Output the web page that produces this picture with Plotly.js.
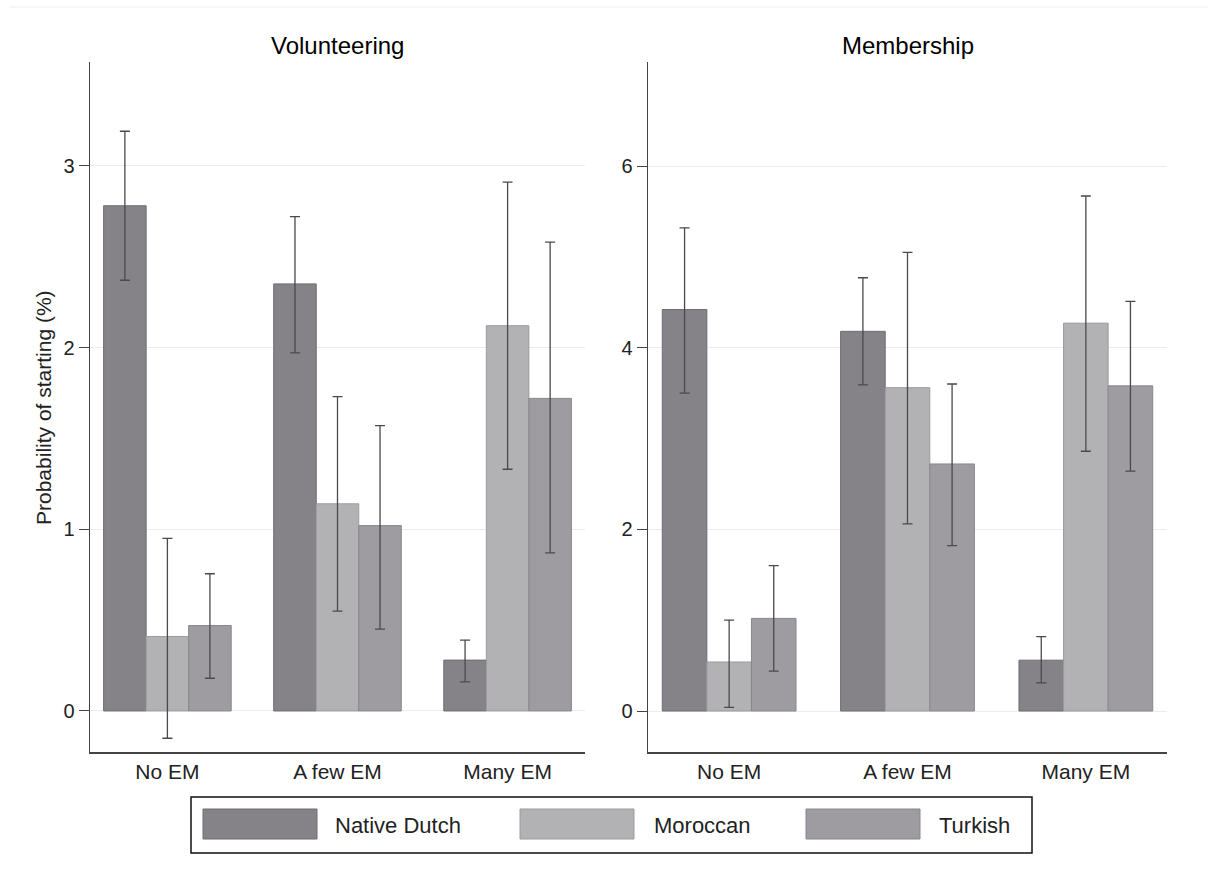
<!DOCTYPE html>
<html>
<head>
<meta charset="utf-8">
<script src="https://cdn.plot.ly/plotly-3.0.1.min.js"></script>
<style>html,body{margin:0;padding:0;background:#fff;}#chart{width:1208px;height:878px;}</style>
</head>
<body>
<div id="chart"></div>
<script>
// ---- data ----
const categories = ['No EM', 'A few EM', 'Many EM'];
const groups = ['Native Dutch', 'Moroccan', 'Turkish'];
const panelTitles = ['Volunteering', 'Membership'];

// Volunteering (left panel)
const volNative   = [2.78, 2.35, 0.28];
const volMoroccan = [0.41, 1.14, 2.12];
const volTurkish  = [0.47, 1.02, 1.72];
const volNativeLo   = [2.37, 1.97, 0.16];
const volNativeHi   = [3.19, 2.72, 0.39];
const volMoroccanLo = [-0.15, 0.55, 1.33];
const volMoroccanHi = [0.95, 1.73, 2.91];
const volTurkishLo  = [0.18, 0.45, 0.87];
const volTurkishHi  = [0.755, 1.57, 2.58];

// Membership (right panel)
const memNative   = [4.42, 4.18, 0.56];
const memMoroccan = [0.54, 3.56, 4.27];
const memTurkish  = [1.02, 2.72, 3.58];
const memNativeLo   = [3.50, 3.59, 0.31];
const memNativeHi   = [5.32, 4.77, 0.82];
const memMoroccanLo = [0.04, 2.06, 2.86];
const memMoroccanHi = [1.00, 5.05, 5.67];
const memTurkishLo  = [0.44, 1.82, 2.64];
const memTurkishHi  = [1.60, 3.60, 4.51];

const volTicks = [0, 1, 2, 3];
const memTicks = [0, 2, 4, 6];
const yTitle = 'Probability of starting (%)';

// ---- styles ----
const fills = ['#858388', '#b2b1b4', '#9e9ca0'];
const edges = ['#6e6c71', '#9b9a9d', '#88868a'];
const W = 1208, H = 878;
const px = v => v / W;
const py = v => 1 - v / H;
const FONT = 'Liberation Sans, Arial, sans-serif';

function barTrace(name, i, vals, lo, hi, xa, ya) {
  return {
    type: 'bar', name: name, x: categories, y: vals, xaxis: xa, yaxis: ya,
    showlegend: false,
    marker: {color: fills[i], line: {color: edges[i], width: 1}},
    error_y: {
      type: 'data', symmetric: false,
      array: hi.map((h, k) => h - vals[k]),
      arrayminus: vals.map((v, k) => v - lo[k]),
      color: '#4a4a4a', thickness: 1.3, width: 5
    }
  };
}

const traces = [
  barTrace(groups[0], 0, volNative, volNativeLo, volNativeHi, 'x', 'y'),
  barTrace(groups[1], 1, volMoroccan, volMoroccanLo, volMoroccanHi, 'x', 'y'),
  barTrace(groups[2], 2, volTurkish, volTurkishLo, volTurkishHi, 'x', 'y'),
  barTrace(groups[0], 0, memNative, memNativeLo, memNativeHi, 'x2', 'y2'),
  barTrace(groups[1], 1, memMoroccan, memMoroccanLo, memMoroccanHi, 'x2', 'y2'),
  barTrace(groups[2], 2, memTurkish, memTurkishLo, memTurkishHi, 'x2', 'y2')
];

const xCommon = {
  type: 'category', range: [-0.455, 2.455], showgrid: false, zeroline: false,
  showline: true, linecolor: '#444', linewidth: 1.5, ticks: '',
  tickfont: {family: FONT, size: 21, color: '#222'}, fixedrange: true
};
const yCommon = {
  showgrid: true, gridcolor: '#ececec', gridwidth: 1, zeroline: false,
  showline: true, linecolor: '#444', linewidth: 1.5,
  ticks: 'outside', ticklen: 10, tickcolor: '#444', tickwidth: 1,
  tickfont: {family: FONT, size: 20, color: '#222'}, fixedrange: true
};

const yDom = [py(752), py(62)];

const layout = {
  width: W, height: H,
  margin: {l: 0, r: 0, t: 0, b: 0},
  paper_bgcolor: '#fff', plot_bgcolor: '#fff',
  barmode: 'group', bargap: 0.25, bargroupgap: 0,
  showlegend: false,
  font: {family: FONT, color: '#222'},
  xaxis: Object.assign({}, xCommon, {domain: [px(90), px(585)], anchor: 'y'}),
  xaxis2: Object.assign({}, xCommon, {domain: [px(648), px(1167)], anchor: 'y2'}),
  yaxis: Object.assign({}, yCommon, {domain: yDom, anchor: 'x', range: [-0.2257, 3.571], tickvals: volTicks}),
  yaxis2: Object.assign({}, yCommon, {domain: yDom, anchor: 'x2', range: [-0.451, 7.145], tickvals: memTicks}),
  shapes: [
    {type: 'line', xref: 'paper', yref: 'paper', x0: px(10), x1: 1, y0: py(7), y1: py(7), line: {color: '#eeeeee', width: 1}},
    {type: 'rect', xref: 'paper', yref: 'paper', x0: px(191), x1: px(1032), y0: py(853), y1: py(797), line: {color: '#111', width: 1.5}, fillcolor: 'rgba(0,0,0,0)'}
  ],
  annotations: [
    {text: panelTitles[0], xref: 'paper', yref: 'paper', x: px(337.5), y: py(45), xanchor: 'center', yanchor: 'middle', showarrow: false, font: {family: FONT, size: 24, color: '#000'}},
    {text: panelTitles[1], xref: 'paper', yref: 'paper', x: px(907.5), y: py(45), xanchor: 'center', yanchor: 'middle', showarrow: false, font: {family: FONT, size: 24, color: '#000'}},
    {text: yTitle, xref: 'paper', yref: 'paper', x: px(43), y: py(408), xanchor: 'center', yanchor: 'middle', textangle: -90, showarrow: false, font: {family: FONT, size: 21, color: '#222'}}
  ]
};

// custom legend (large swatches like the original)
const swX = [203, 520, 806];
const txX = [333, 652, 937];
groups.forEach((g, i) => {
  layout.shapes.push({type: 'rect', xref: 'paper', yref: 'paper', x0: px(swX[i]), x1: px(swX[i] + 114), y0: py(839), y1: py(809), fillcolor: fills[i], line: {color: edges[i], width: 1}});
  layout.annotations.push({text: g, xref: 'paper', yref: 'paper', x: px(txX[i]), y: py(825), xanchor: 'left', yanchor: 'middle', showarrow: false, font: {family: FONT, size: 22, color: '#222'}});
});

Plotly.newPlot('chart', traces, layout, {staticPlot: true, displayModeBar: false});
</script>
</body>
</html>
